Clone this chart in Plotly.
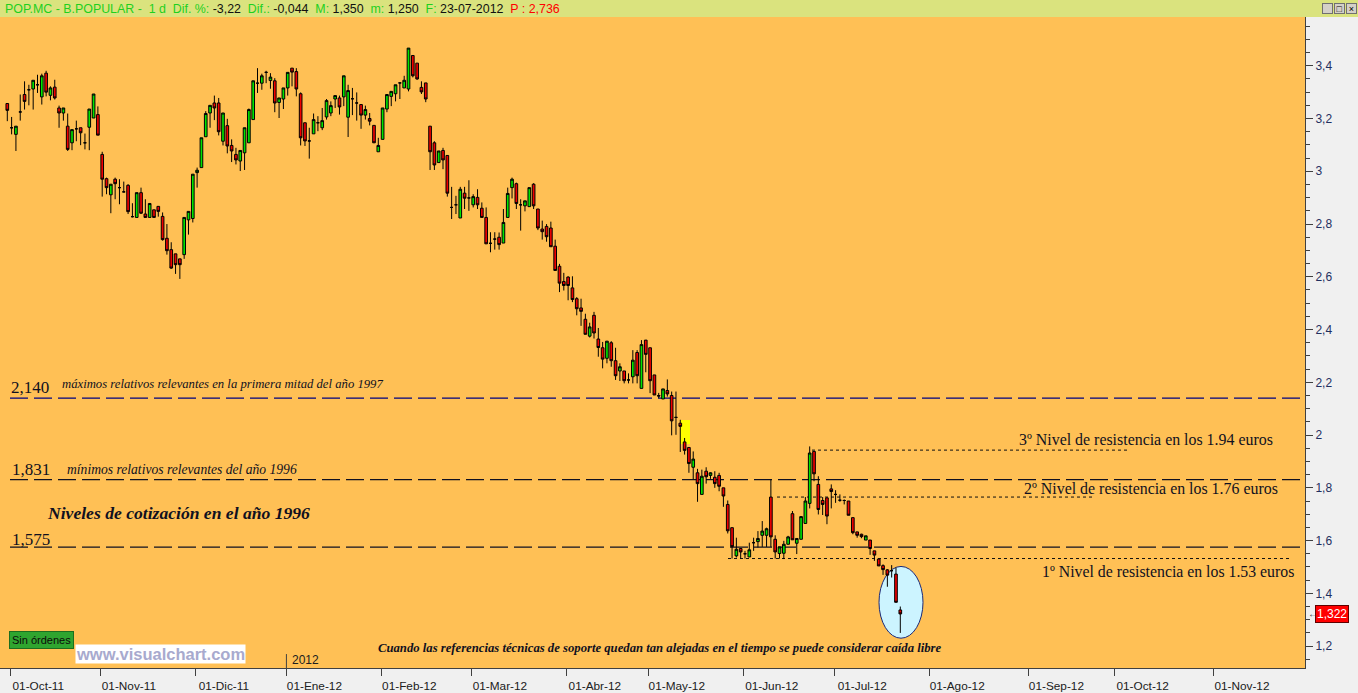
import pandas as pd
import plotly.graph_objects as go

# ---------------- DATA ----------------
open_ = [3.257,3.165,3.140,3.225,3.291,3.309,3.312,3.328,3.282,3.372,
         3.288,3.319,3.240,3.221,3.171,3.108,3.161,3.165,3.108,3.167,
         3.202,3.215,3.064,2.972,2.911,2.970,2.938,2.922,2.947,2.828,
         2.825,2.919,2.838,2.825,2.854,2.867,2.829,2.746,2.703,2.687,
         2.668,2.684,2.816,2.821,2.995,3.014,3.131,3.221,3.259,3.259,
         3.114,3.173,3.098,3.064,3.039,3.070,3.108,3.196,3.334,3.334,
         3.375,3.344,3.343,3.261,3.274,3.316,3.391,3.378,3.294,3.184,
         3.115,3.142,3.184,3.165,3.206,3.221,3.274,3.278,3.282,3.205,
         3.275,3.259,3.253,3.213,3.200,3.174,3.074,3.121,3.236,3.284,
         3.294,3.335,3.316,3.312,3.439,3.410,3.318,3.335,3.171,3.108,
         3.033,3.079,3.060,2.863,2.873,2.823,2.917,2.899,2.873,2.901,
         2.860,2.825,2.727,2.743,2.750,2.728,2.825,2.938,2.953,2.873,
         2.869,2.866,2.951,2.857,2.781,2.791,2.785,2.716,2.640,2.582,
         2.599,2.558,2.517,2.482,2.439,2.375,2.454,2.364,2.331,2.291,
         2.350,2.282,2.243,2.243,2.209,2.221,2.313,2.177,2.360,2.331,
         2.228,2.150,2.137,2.169,2.150,2.067,2.045,1.974,1.953,1.878,
         1.857,1.775,1.863,1.847,1.840,1.847,1.800,1.737,1.649,1.542,
         1.570,1.550,1.538,1.592,1.596,1.620,1.620,1.765,1.605,1.551,
         1.552,1.586,1.702,1.590,1.605,1.665,1.741,1.938,1.813,1.752,
         1.762,1.796,1.775,1.753,1.752,1.750,1.687,1.633,1.624,1.602,
         1.602,1.561,1.530,1.505,1.489,1.486,1.473,1.337]
high = [3.257,3.206,3.171,3.291,3.341,3.328,3.345,3.366,3.370,3.381,
        3.322,3.347,3.249,3.240,3.219,3.158,3.192,3.165,3.143,3.236,
        3.293,3.246,3.074,2.976,2.951,2.976,2.970,2.961,2.951,2.879,
        2.919,2.938,2.894,2.878,2.854,2.867,2.844,2.800,2.731,2.687,
        2.668,2.825,2.848,2.989,3.014,3.127,3.228,3.250,3.287,3.278,
        3.221,3.199,3.121,3.089,3.079,3.165,3.238,3.343,3.391,3.370,
        3.381,3.372,3.353,3.278,3.316,3.375,3.391,3.391,3.299,3.184,
        3.165,3.219,3.209,3.240,3.274,3.265,3.287,3.287,3.362,3.328,
        3.316,3.299,3.253,3.249,3.221,3.174,3.127,3.240,3.291,3.303,
        3.328,3.335,3.362,3.467,3.439,3.410,3.341,3.335,3.171,3.114,
        3.077,3.089,3.060,2.941,2.907,2.941,2.941,2.966,2.913,2.932,
        2.882,2.863,2.769,2.769,2.768,2.857,2.938,2.976,2.957,2.894,
        2.888,2.938,2.955,2.857,2.813,2.800,2.809,2.741,2.649,2.615,
        2.602,2.602,2.523,2.517,2.460,2.426,2.467,2.406,2.353,2.356,
        2.356,2.331,2.272,2.243,2.234,2.322,2.322,2.360,2.360,2.331,
        2.228,2.160,2.175,2.211,2.165,2.165,2.058,1.989,1.953,1.938,
        1.872,1.869,1.878,1.859,1.863,1.857,1.800,1.752,1.649,1.611,
        1.570,1.561,1.592,1.611,1.636,1.674,1.649,1.831,1.620,1.576,
        1.599,1.618,1.712,1.608,1.693,1.765,1.957,1.938,1.844,1.765,
        1.762,1.813,1.791,1.775,1.756,1.750,1.687,1.633,1.626,1.618,
        1.602,1.561,1.530,1.510,1.492,1.507,1.498,1.350]
low = [3.190,3.140,3.077,3.192,3.234,3.250,3.234,3.297,3.253,3.284,
       3.269,3.272,3.165,3.192,3.077,3.080,3.114,3.099,3.083,3.080,
       3.202,3.137,2.904,2.913,2.841,2.894,2.875,2.920,2.838,2.825,
       2.825,2.838,2.825,2.825,2.825,2.828,2.737,2.684,2.630,2.611,
       2.592,2.668,2.760,2.806,2.938,3.014,3.131,3.165,3.194,3.136,
       3.098,3.068,3.035,3.026,3.001,3.005,3.108,3.196,3.297,3.309,
       3.334,3.313,3.224,3.202,3.236,3.287,3.322,3.284,3.098,3.096,
       3.048,3.142,3.152,3.156,3.196,3.209,3.240,3.215,3.247,3.130,
       3.213,3.192,3.161,3.196,3.174,3.108,3.074,3.121,3.224,3.247,
       3.265,3.274,3.316,3.303,3.356,3.347,3.293,3.262,3.005,3.005,
       3.033,3.008,2.904,2.819,2.838,2.823,2.857,2.850,2.863,2.857,
       2.825,2.725,2.693,2.703,2.703,2.728,2.825,2.897,2.857,2.775,
       2.848,2.866,2.857,2.777,2.741,2.733,2.714,2.624,2.542,2.548,
       2.511,2.504,2.454,2.414,2.382,2.370,2.366,2.297,2.253,2.272,
       2.259,2.209,2.205,2.196,2.196,2.196,2.196,2.177,2.238,2.159,
       2.152,2.140,2.137,2.146,1.999,2.001,1.936,1.926,1.857,1.832,
       1.747,1.775,1.816,1.834,1.800,1.787,1.728,1.627,1.532,1.536,
       1.532,1.532,1.538,1.561,1.574,1.576,1.576,1.576,1.532,1.532,
       1.530,1.586,1.603,1.549,1.605,1.665,1.722,1.825,1.699,1.697,
       1.662,1.722,1.743,1.747,1.737,1.696,1.624,1.611,1.609,1.602,
       1.546,1.523,1.504,1.470,1.425,1.460,1.366,1.250]
close = [3.231,3.165,3.171,3.225,3.265,3.309,3.345,3.328,3.362,3.300,
         3.316,3.278,3.221,3.240,3.083,3.158,3.161,3.146,3.108,3.236,
         3.293,3.137,2.970,2.938,2.951,2.953,2.938,2.922,2.847,2.828,
         2.919,2.841,2.825,2.878,2.825,2.848,2.741,2.699,2.633,2.646,
         2.646,2.825,2.848,2.989,3.004,3.127,3.219,3.250,3.240,3.150,
         3.221,3.096,3.077,3.043,3.079,3.165,3.234,3.343,3.334,3.362,
         3.375,3.357,3.259,3.278,3.316,3.375,3.376,3.312,3.127,3.115,
         3.115,3.196,3.184,3.192,3.268,3.249,3.287,3.244,3.362,3.306,
         3.275,3.259,3.213,3.234,3.190,3.108,3.098,3.240,3.291,3.303,
         3.328,3.335,3.345,3.467,3.362,3.350,3.301,3.274,3.074,3.024,
         3.077,3.043,2.917,2.863,2.873,2.932,2.898,2.899,2.904,2.873,
         2.825,2.725,2.727,2.743,2.722,2.806,2.916,2.970,2.878,2.873,
         2.888,2.938,2.869,2.785,2.771,2.752,2.714,2.624,2.576,2.567,
         2.567,2.514,2.479,2.469,2.382,2.410,2.387,2.332,2.288,2.356,
         2.282,2.225,2.259,2.206,2.209,2.284,2.225,2.343,2.306,2.206,
         2.152,2.148,2.175,2.156,2.054,2.067,2.033,1.942,1.892,1.909,
         1.816,1.844,1.842,1.857,1.816,1.806,1.769,1.637,1.577,1.567,
         1.557,1.550,1.565,1.592,1.608,1.636,1.645,1.614,1.557,1.576,
         1.586,1.614,1.603,1.608,1.691,1.750,1.932,1.853,1.718,1.737,
         1.693,1.786,1.775,1.753,1.752,1.696,1.630,1.620,1.615,1.618,
         1.570,1.545,1.504,1.490,1.469,1.486,1.366,1.322]

first_day = "2011-09-30"
market_holidays = ["2011-12-26", "2012-04-06", "2012-04-09", "2012-05-01"]
month_starts = ["2011-10-01", "2011-11-01", "2011-12-01", "2012-01-01", "2012-02-01",
                "2012-03-01", "2012-04-01", "2012-05-01", "2012-06-01", "2012-07-01",
                "2012-08-01", "2012-09-01", "2012-10-01", "2012-11-01"]
month_labels = ["01-Oct-11", "01-Nov-11", "01-Dic-11", "01-Ene-12", "01-Feb-12",
                "01-Mar-12", "01-Abr-12", "01-May-12", "01-Jun-12", "01-Jul-12",
                "01-Ago-12", "01-Sep-12", "01-Oct-12", "01-Nov-12"]
y_tick_values = [1.2, 1.4, 1.6, 1.8, 2.0, 2.2, 2.4, 2.6, 2.8, 3.0, 3.2, 3.4]
y_tick_labels = ["1,2", "1,4", "1,6", "1,8", "2", "2,2", "2,4", "2,6", "2,8", "3", "3,2", "3,4"]

level_1997_max = 2.140
level_1996_min = 1.831
level_1996_b = 1.575
resist_3 = 1.943
resist_2 = 1.765
resist_1 = 1.532
last_price = 1.322

# ---------------- CALENDAR (trading-day axis) ----------------
days = pd.bdate_range(first_day, "2012-12-31")
days = days[~days.isin(pd.to_datetime(market_holidays))]
n = len(close)
xk = list(range(n))
tick_idx = [int((days >= pd.Timestamp(m)).argmax()) for m in month_starts]

# ---------------- FIGURE ----------------
W, H = 1358, 693
ML, MR, MT, MB = 0, 53, 17, 22
PW, PH = W - ML - MR, H - MT - MB
PX0, PXS = 7.3, 4.314  # first candle pixel / pixels per trading day


def px2k(px):
    return (px - PX0) / PXS


def py2paper(py):
    return (H - MB - py) / PH


fig = go.Figure()
fig.add_trace(go.Candlestick(
    x=xk, open=open_, high=high, low=low, close=close,
    increasing=dict(fillcolor="#00E400", line=dict(color="black", width=1)),
    decreasing=dict(fillcolor="#F00000", line=dict(color="black", width=1)),
    whiskerwidth=0, showlegend=False, hoverinfo="skip",
))

shapes = []
shapes.append(dict(type="circle", xref="x", yref="y",
                   x0=px2k(879), x1=px2k(923), y0=1.230, y1=1.502,
                   fillcolor="#CCF4FF", line=dict(color="#1A2A7A", width=1), layer="below"))
shapes.append(dict(type="rect", xref="x", yref="y",
                   x0=px2k(680), x1=px2k(690), y0=1.966, y1=2.057,
                   fillcolor="#FFFF00", line=dict(width=0), layer="below"))
for lvl, col in [(level_1997_max, "#000080"), (level_1996_min, "#101020"), (level_1996_b, "#101020")]:
    shapes.append(dict(type="line", xref="paper", yref="y", x0=10 / PW, x1=1.0, y0=lvl, y1=lvl,
                       line=dict(color=col, width=1.3, dash="18px,6px"), layer="below"))
for lvl, x0p, x1p in [(resist_3, 812, 1128), (resist_2, 777, 1092), (resist_1, 728, 1292)]:
    shapes.append(dict(type="line", xref="x", yref="y", x0=px2k(x0p), x1=px2k(x1p), y0=lvl, y1=lvl,
                       line=dict(color="#101010", width=1, dash="3px,3px"), layer="below"))
shapes.append(dict(type="rect", xref="paper", yref="paper", x0=-0.01, x1=W / PW + 0.01,
                   y0=1.0, y1=1 + MT / PH + 0.01, fillcolor="#DAE37E", line=dict(width=0), layer="above"))
jan = tick_idx[3]
shapes.append(dict(type="line", xref="x", yref="paper", x0=jan - 0.3, x1=jan - 0.3, y0=0, y1=14 / PH,
                   line=dict(color="#404040", width=1)))
fig.update_layout(shapes=shapes)

ann = []
serif = "Liberation Serif"


def add_text(text, px, py, size, style="normal", weight="normal", color="#101020",
             family=serif, xanchor="left"):
    ann.append(dict(text=text, xref="paper", yref="paper", x=px / PW, y=py2paper(py),
                    xanchor=xanchor, yanchor="middle", showarrow=False,
                    font=dict(family=family, size=size, color=color, style=style, weight=weight)))


add_text("2,140", 9, 389, 17)
add_text("máximos relativos relevantes en la primera mitad del año 1997", 60, 386, 12.7, style="italic")
add_text("1,831", 10, 472, 17)
add_text("mínimos relativos relevantes del año 1996", 65, 472, 13.6, style="italic")
add_text("Niveles de cotización en el año 1996", 45, 515, 17.6, style="italic", weight="bold")
add_text("1,575", 10, 542, 17)
add_text("3º Nivel de resistencia en los 1.94 euros", 1017, 441, 15.9)
add_text("2º Nivel de resistencia en los 1.76 euros", 1022, 491, 15.9)
add_text("1º Nivel de resistencia en los 1.53 euros", 1040, 574, 15.8)
add_text("Cuando las referencias técnicas de soporte quedan tan alejadas en el tiempo se puede considerar caída libre",
         660, 651, 12.7, style="italic", weight="bold", xanchor="center")
add_text("2012", 290, 663, 12, family="Liberation Sans", color="#202020")

ann.append(dict(text="Sin órdenes", xref="paper", yref="paper", x=9 / PW, y=py2paper(642.5),
                xanchor="left", yanchor="middle", showarrow=False, bgcolor="#2FA52F",
                bordercolor="#1E6E1E", borderwidth=1, borderpad=2,
                font=dict(family="Liberation Sans", size=11, color="#0A0A0A")))
ann.append(dict(text="<b>www.visualchart.com</b>", xref="paper", yref="paper", x=75 / PW, y=py2paper(657),
                xanchor="left", yanchor="middle", showarrow=False, bgcolor="#FFFFFF", borderpad=0,
                font=dict(family="Liberation Sans", size=16.5, color="#A8AACE")))
G = "#1ED01E"
hdr = (f"<span style='color:{G}'>POP.MC - B.POPULAR -\u00a0\u00a01 d\u00a0\u00a0Dif. %:</span> -3,22"
       f"\u00a0\u00a0<span style='color:{G}'>Dif.:</span> -0,044"
       f"\u00a0\u00a0<span style='color:{G}'>M:</span> 1,350"
       f"\u00a0\u00a0<span style='color:{G}'>m:</span> 1,250"
       f"\u00a0\u00a0<span style='color:{G}'>F:</span> 23-07-2012"
       f"\u00a0\u00a0<span style='color:#FF0000'>P : 2,736</span>")
ann.append(dict(text=hdr, xref="paper", yref="paper", x=3 / PW, y=1 + 8.5 / PH,
                xanchor="left", yanchor="middle", showarrow=False,
                font=dict(family="Liberation Sans", size=12.4, color="#101010")))
for i, s in enumerate(["_", "□", "×"]):
    ann.append(dict(text=s, xref="paper", yref="paper", x=(1322 + i * 12) / PW, y=1 + 8.5 / PH,
                    xanchor="left", yanchor="middle", showarrow=False, bgcolor="#D4D0C8",
                    bordercolor="#707070", borderwidth=1, borderpad=0, width=9, height=9,
                    font=dict(family="Liberation Sans", size=9, color="#000000")))
ann.append(dict(text="1,322", xref="paper", yref="y", x=1315 / PW, y=last_price,
                xanchor="left", yanchor="middle", showarrow=False, bgcolor="#FF0000",
                bordercolor="#600000", borderwidth=1, borderpad=1,
                font=dict(family="Liberation Sans", size=12, color="#FFFFFF")))
ann.append(dict(text="←", xref="paper", yref="y", x=1306 / PW, y=last_price,
                xanchor="left", yanchor="middle", showarrow=False,
                font=dict(family="Liberation Sans", size=10, color="#404040")))
fig.update_layout(annotations=ann)

fig.update_layout(
    width=W, height=H,
    margin=dict(l=ML, r=MR, t=MT, b=MB, pad=0),
    paper_bgcolor="#F0F0F0", plot_bgcolor="#FFC055",
    separators=",.",
    boxgap=0.12,
    showlegend=False,
    xaxis=dict(range=[px2k(0), px2k(PW)], rangeslider=dict(visible=False),
               showgrid=False, zeroline=False, showline=True, linecolor="#404040", linewidth=1,
               tickmode="array", tickvals=[t - 0.3 for t in tick_idx], ticktext=month_labels,
               ticks="outside", ticklen=7, tickcolor="#404040", ticklabelshift=28,
               ticklabelstandoff=0,
               tickfont=dict(family="Liberation Sans", size=11.8, color="#202020")),
    yaxis=dict(side="right", range=[1.2 - (671 - 649) / 265, 1.2 + (649 - 17) / 265],
               showgrid=False, zeroline=False, showline=True, linecolor="#404040", linewidth=1,
               tickmode="array", tickvals=y_tick_values, ticktext=y_tick_labels,
               ticks="outside", ticklen=7, tickcolor="#404040",
               minor=dict(tickmode="linear", tick0=1.2, dtick=0.05, ticklen=4, tickcolor="#404040",
                          ticks="outside", showgrid=False),
               tickfont=dict(family="Liberation Sans", size=12, color="#1F2F5F")),
)

fig.write_html("out.html", config={"displayModeBar": False},
               post_script="document.body.style.margin='0';document.body.style.overflow='hidden';")
